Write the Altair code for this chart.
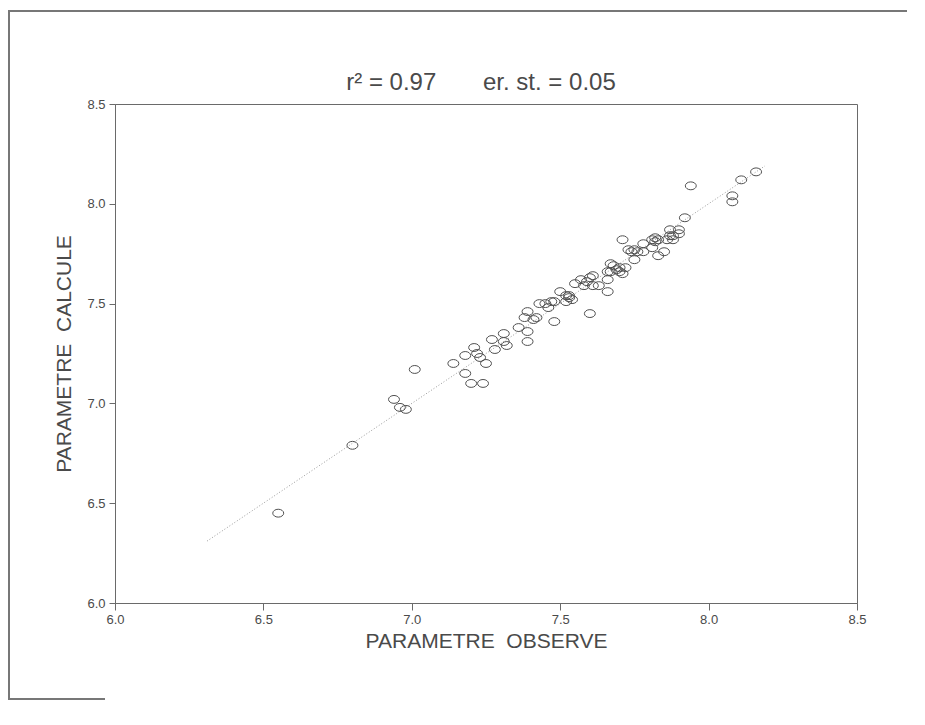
import altair as alt
import pandas as pd

obs = [6.55, 6.80, 6.94, 6.96, 6.98, 7.01, 7.14, 7.18, 7.18, 7.20,
       7.24, 7.21, 7.22, 7.23, 7.25, 7.27, 7.28, 7.31, 7.31, 7.32,
       7.36, 7.39, 7.39, 7.39, 7.38, 7.41, 7.42, 7.43, 7.45, 7.47,
       7.48, 7.46, 7.48, 7.50, 7.52, 7.53, 7.54, 7.52, 7.53, 7.55,
       7.57, 7.58, 7.59, 7.60, 7.61, 7.61, 7.63, 7.60, 7.66, 7.66,
       7.66, 7.67, 7.67, 7.68, 7.69, 7.70, 7.70, 7.72, 7.71, 7.71,
       7.73, 7.74, 7.75, 7.76, 7.75, 7.78, 7.78, 7.81, 7.82, 7.82,
       7.83, 7.81, 7.83, 7.85, 7.86, 7.87, 7.90, 7.90, 7.88, 7.87,
       7.88, 7.92, 7.94, 8.08, 8.08, 8.11, 8.16]
calc = [6.45, 6.79, 7.02, 6.98, 6.97, 7.17, 7.20, 7.24, 7.15, 7.10,
        7.10, 7.28, 7.25, 7.23, 7.20, 7.32, 7.27, 7.35, 7.31, 7.29,
        7.38, 7.36, 7.31, 7.46, 7.43, 7.42, 7.43, 7.50, 7.50, 7.51,
        7.51, 7.48, 7.41, 7.56, 7.54, 7.53, 7.52, 7.51, 7.54, 7.60,
        7.62, 7.59, 7.61, 7.63, 7.64, 7.59, 7.59, 7.45, 7.62, 7.56,
        7.66, 7.70, 7.66, 7.69, 7.67, 7.66, 7.68, 7.68, 7.65, 7.82,
        7.77, 7.76, 7.77, 7.76, 7.72, 7.76, 7.80, 7.82, 7.81, 7.83,
        7.82, 7.78, 7.74, 7.76, 7.82, 7.87, 7.87, 7.85, 7.84, 7.84,
        7.82, 7.93, 8.09, 8.04, 8.01, 8.12, 8.16]

# Regression (1:1) line end points
line_x = [6.31, 8.19]
line_y = [6.31, 8.19]

ticks = [6.0, 6.5, 7.0, 7.5, 8.0, 8.5]

title_text = ["r² = 0.97\u00a0\u00a0\u00a0\u00a0\u00a0\u00a0 er. st. = 0.05"]

points = pd.DataFrame({"obs": obs, "calc": calc})
fit = pd.DataFrame({"obs": line_x, "calc": line_y})
deco = pd.DataFrame({"k": [0]})
ttl = pd.DataFrame({"t": title_text})

FONT = "Liberation Sans"
GREY = "#4a4a4a"

xs = alt.Scale(domain=[6.0, 8.5], nice=False, zero=False)
ys = alt.Scale(domain=[6.0, 8.5], nice=False, zero=False)

x_axis = alt.Axis(values=ticks, format=".1f", title="PARAMETRE\u00a0 OBSERVE",
                  grid=False, tickSize=7, labelPadding=3, titlePadding=4,
                  labelFlush=False)
y_axis = alt.Axis(values=ticks, format=".1f", title="PARAMETRE\u00a0 CALCULE",
                  grid=False, tickSize=6, labelPadding=4, titlePadding=12,
                  labelFlush=False)

line = alt.Chart(fit).mark_line(color="#9a9a9a", strokeWidth=1,
                                strokeDash=[1, 2]).encode(
    x=alt.X("obs:Q", scale=xs, axis=x_axis),
    y=alt.Y("calc:Q", scale=ys, axis=y_axis),
)

ellipse = "M-1,0 A1,0.72 0 1,0 1,0 A1,0.72 0 1,0 -1,0 Z"
pts = alt.Chart(points).mark_point(shape=ellipse, size=120, filled=False,
                                   color="#505050", strokeWidth=1,
                                   opacity=1).encode(
    x=alt.X("obs:Q", scale=xs),
    y=alt.Y("calc:Q", scale=ys),
)

title = alt.Chart(ttl).mark_text(font=FONT, fontSize=24, color=GREY,
                                 align="center", baseline="alphabetic").encode(
    text="t:N", x=alt.value(366), y=alt.value(-14))

# scanned page frame (top and left edges)
top_edge = alt.Chart(deco).mark_rule(color="#777777", strokeWidth=2).encode(
    x=alt.value(-107), x2=alt.value(792), y=alt.value(-93))
left_edge = alt.Chart(deco).mark_rule(color="#777777", strokeWidth=2).encode(
    x=alt.value(-106), y=alt.value(-94), y2=alt.value(596))
bottom_edge = alt.Chart(deco).mark_rule(color="#777777", strokeWidth=2).encode(
    x=alt.value(-107), x2=alt.value(-10), y=alt.value(595))

chart = alt.layer(line, pts, title, top_edge, left_edge, bottom_edge).properties(
    width=742, height=499,
    padding={"left": 107, "top": 96, "right": 52, "bottom": 100},
    autosize=alt.AutoSizeParams(type="none"),
    background="white",
).configure_view(
    stroke="#6a6a6a", strokeWidth=1
).configure_axis(
    domainColor="#6a6a6a", tickColor="#6a6a6a",
    labelFont=FONT, labelFontSize=13, labelColor=GREY,
    titleFont=FONT, titleFontSize=21, titleFontWeight="normal", titleColor=GREY,
)

chart.save("out.html", embed_options={"renderer": "svg", "actions": False})
